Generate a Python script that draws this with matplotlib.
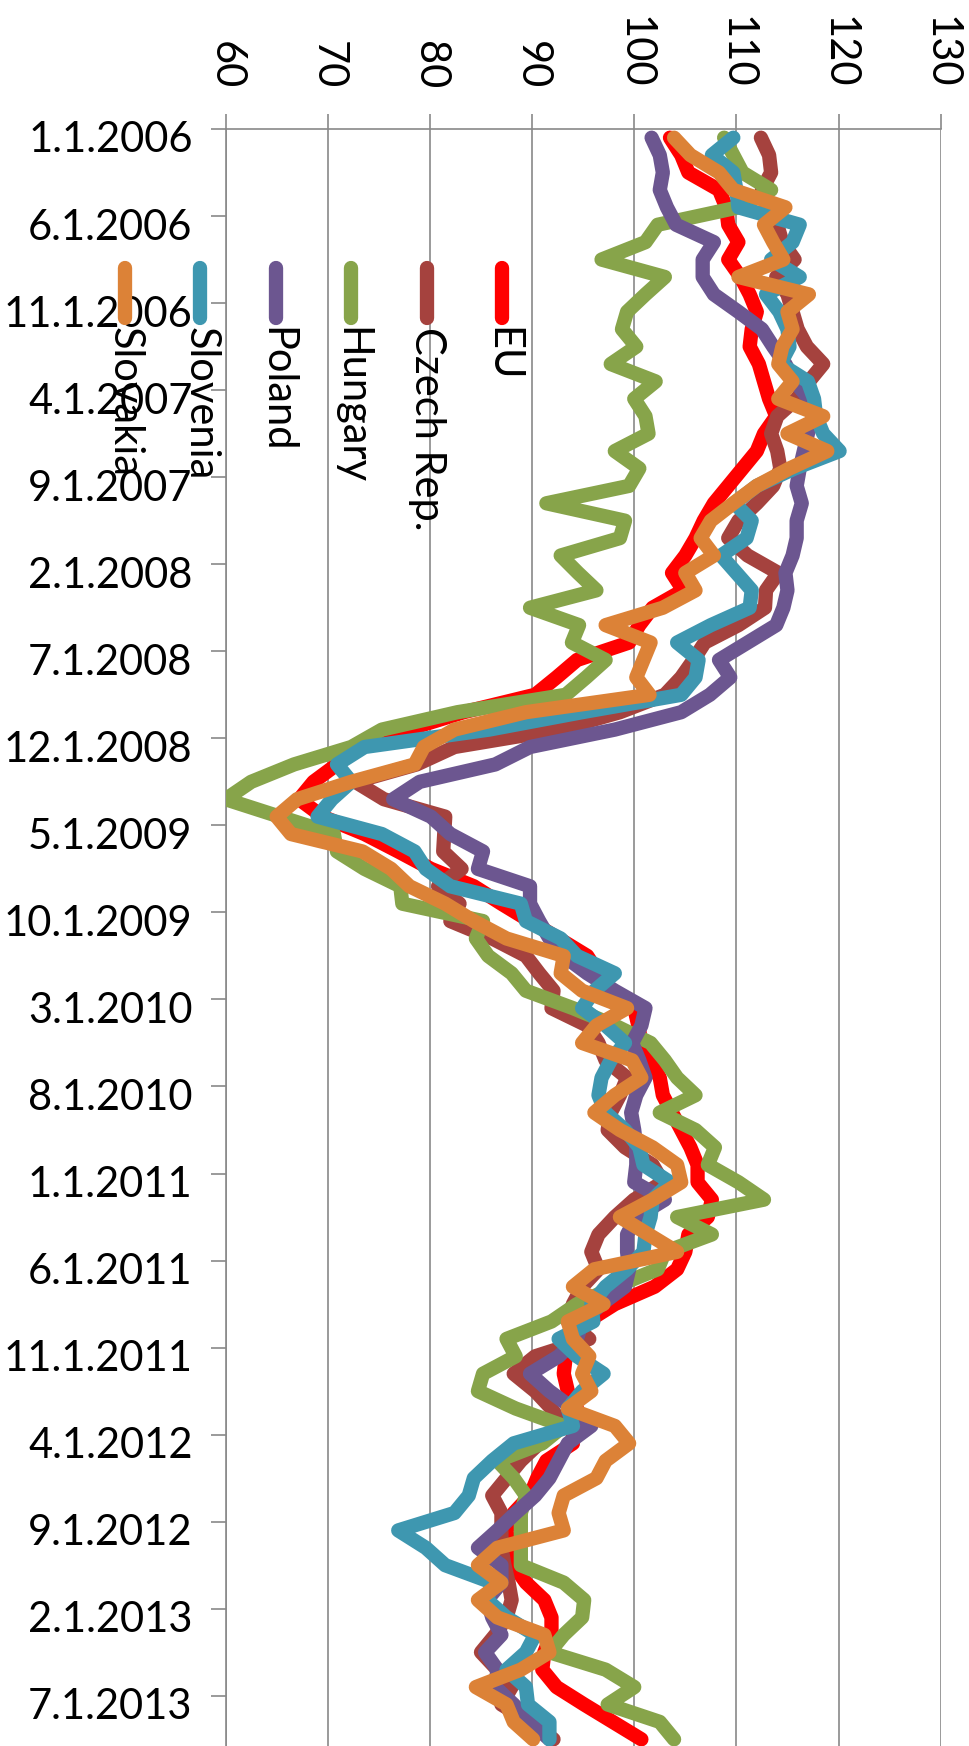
import numpy as np
import pandas as pd
import matplotlib
matplotlib.use('Agg')
import matplotlib.pyplot as plt
from matplotlib.lines import Line2D
from matplotlib.transforms import ScaledTranslation

plt.rcParams['font.family'] = ['Lato', 'DejaVu Sans']

# monthly index values, Jan 2006 - Sep 2013
months = pd.date_range('2006-01-01', periods=93, freq='MS')

eu = [103.5, 104.6, 105.3, 108.3, 109.0, 109.2, 110.2, 109.2, 110.4, 111.3,
      112.0, 111.5, 111.3, 112.2, 112.7, 113.2, 113.9, 112.7, 112.0, 110.6,
      109.2, 107.8, 106.8, 106.0, 105.0, 103.7, 104.8, 101.8, 100.5, 99.5,
      94.4, 92.4, 90.3, 83.3, 77.8, 72.7, 70.9, 68.6, 67.2, 69.5,
      73.6, 76.9, 80.1, 84.3, 87.0, 89.8, 92.6, 95.4, 96.5, 97.7,
      100.0, 100.4, 100.7, 101.6, 102.5, 102.8, 103.7, 104.6, 105.5, 106.2,
      106.2, 107.6, 107.2, 105.3, 105.0, 104.2, 102.0, 98.1, 95.4, 94.0,
      93.3, 93.1, 93.5, 94.4, 94.0, 94.0, 91.4, 90.5, 89.8, 88.2,
      87.5, 87.7, 88.2, 89.4, 91.2, 91.9, 91.9, 91.2, 91.0, 92.4,
      95.1, 97.9, 100.7]

czech = [112.4, 113.2, 113.4, 112.5, 113.0, 114.0, 114.5, 115.7, 113.9, 115.0,
         115.5, 116.0, 116.9, 118.5, 117.1, 115.9, 114.0, 113.4, 114.0, 114.3,
         113.6, 112.0, 110.2, 109.2, 111.1, 114.1, 112.9, 112.8, 110.2, 106.9,
         105.8, 104.6, 103.0, 98.6, 92.6, 82.4, 78.7, 72.7, 75.5, 81.5,
         81.4, 81.3, 83.1, 80.8, 82.9, 82.0, 86.1, 89.4, 90.7, 92.1,
         91.9, 95.4, 96.5, 97.2, 99.3, 98.6, 97.7, 97.4, 99.1, 101.8,
         102.8, 100.0, 98.1, 96.5, 95.8, 96.5, 94.9, 94.0, 93.5, 95.6,
         90.3, 88.2, 90.3, 91.9, 93.1, 90.7, 88.9, 87.5, 86.1, 87.0,
         87.0, 87.0, 87.3, 87.7, 88.0, 87.5, 86.4, 85.0, 86.6, 88.0,
         87.0, 89.8, 92.1]

hungary = [108.8, 109.7, 110.6, 113.4, 110.2, 102.3, 101.1, 96.8, 103.0, 101.1,
           99.3, 98.8, 100.2, 97.7, 102.1, 100.0, 101.1, 101.4, 98.1, 100.5,
           99.5, 91.4, 99.1, 98.6, 92.8, 94.5, 96.3, 89.8, 94.6, 93.9,
           97.2, 95.3, 93.3, 82.7, 75.3, 72.3, 66.7, 62.5, 60.0, 65.3,
           70.6, 70.9, 73.6, 77.1, 77.3, 85.2, 84.5, 85.7, 88.0, 89.4,
           94.0, 98.1, 101.6, 103.0, 104.2, 106.0, 102.5, 106.0, 107.9, 107.2,
           110.2, 112.7, 104.2, 107.6, 103.0, 102.3, 98.1, 94.4, 91.9, 87.5,
           88.4, 85.2, 84.7, 88.4, 93.1, 91.0, 86.6, 88.2, 89.4, 88.9,
           88.9, 88.9, 88.9, 93.1, 95.1, 94.9, 93.1, 91.7, 97.2, 100.0,
           97.4, 102.5, 103.9]

poland = [101.7, 102.5, 102.8, 102.5, 103.2, 104.1, 107.8, 106.7, 106.7, 107.8,
          110.2, 112.5, 113.6, 114.8, 115.7, 117.1, 117.5, 117.0, 116.6, 116.2,
          115.9, 116.4, 115.9, 115.9, 115.5, 114.8, 115.0, 114.6, 113.9, 111.1,
          108.3, 109.4, 107.4, 104.6, 98.1, 89.8, 86.4, 79.0, 76.4, 80.1,
          82.0, 85.2, 84.7, 89.8, 89.8, 90.7, 91.7, 93.1, 95.4, 98.1,
          101.1, 100.7, 99.8, 100.5, 101.1, 100.2, 99.7, 100.0, 100.2, 100.2,
          100.0, 103.0, 100.2, 99.3, 99.3, 99.5, 99.1, 96.8, 94.9, 94.4,
          92.6, 89.8, 91.7, 94.0, 95.8, 93.5, 92.6, 91.7, 90.3, 88.4,
          86.6, 84.7, 87.0, 87.0, 85.6, 86.1, 87.0, 85.4, 86.6, 86.4,
          88.2, 89.8, 91.7]

slovenia = [109.7, 107.6, 109.7, 110.0, 110.2, 116.2, 115.5, 113.4, 116.2, 112.9,
            114.2, 115.0, 115.2, 114.3, 117.0, 117.6, 117.8, 118.5, 120.1, 115.7,
            112.0, 109.8, 111.5, 111.0, 108.5, 110.0, 111.5, 111.3, 107.5, 104.2,
            106.3, 106.0, 104.6, 94.9, 85.8, 73.6, 70.9, 72.3, 70.4, 69.0,
            75.3, 78.5, 79.6, 82.0, 88.9, 89.4, 92.8, 94.4, 98.1, 96.1,
            94.9, 97.2, 99.1, 97.7, 96.8, 96.5, 97.2, 99.1, 100.5, 100.9,
            103.5, 101.8, 101.6, 101.1, 100.9, 99.3, 97.2, 95.8, 96.0, 92.6,
            94.4, 97.0, 94.9, 93.5, 94.0, 88.2, 86.1, 84.3, 83.8, 82.4,
            76.9, 79.6, 81.5, 86.1, 85.6, 87.5, 90.3, 89.4, 87.5, 89.4,
            89.6, 91.7, 91.7]

slovakia = [103.9, 105.5, 108.3, 109.7, 114.8, 112.7, 113.6, 114.6, 110.2, 117.1,
            115.0, 115.5, 114.5, 114.1, 115.5, 114.1, 118.5, 115.0, 118.9, 115.2,
            112.0, 109.7, 107.5, 106.5, 107.8, 105.0, 106.0, 102.8, 97.2, 101.6,
            100.9, 100.2, 101.5, 89.4, 82.4, 79.4, 78.5, 72.3, 67.0, 65.0,
            66.4, 73.4, 76.2, 78.0, 81.5, 84.3, 87.5, 93.1, 92.8, 94.9,
            99.3, 96.3, 94.9, 99.8, 100.7, 98.1, 96.1, 98.6, 101.8, 104.2,
            104.6, 101.8, 98.6, 101.4, 104.2, 96.1, 94.0, 97.0, 93.5, 94.0,
            95.6, 94.9, 95.8, 93.5, 98.1, 99.5, 97.2, 96.3, 93.1, 92.6,
            93.1, 86.6, 84.7, 87.0, 84.7, 86.6, 91.2, 91.7, 88.9, 84.5,
            87.5, 88.2, 90.1]

names = ['EU', 'Czech Rep.', 'Hungary', 'Poland', 'Slovenia', 'Slovakia']
series = [eu, czech, hungary, poland, slovenia, slovakia]
colors = ['#FF0000', '#A5423E', '#87A44A', '#6C5690', '#3E97B0', '#DC8237']

value_ticks = [60, 70, 80, 90, 100, 110, 120, 130]
date_labels = [f'{d.month}.{d.day}.{d.year}' for d in months[::5]]

W, H = 969, 1746
fig = plt.figure(figsize=(W / 100, H / 100), dpi=100)

# plot area in pixels: 60 at x=226, 130 at x=941, top axis at y=129
left, right, top = 225.6, 940.7, 129.0
ax = fig.add_axes([left / W, -0.00115, (right - left) / W, (1 - top / H) + 0.00115])

grid_c = '#898989'
y = np.arange(len(months)) + 0.5
for vals, c in zip(series, colors):
    ax.plot(vals, y, color=c, lw=10.3, solid_capstyle='round',
            solid_joinstyle='round', zorder=3)

ax.set_xlim(60, 130)
ax.set_ylim(len(months), 0)
ax.set_xticks(value_ticks)
ax.set_yticks(np.arange(0, len(months), 5))
ax.set_yticklabels(date_labels)

ax.xaxis.tick_top()
ax.grid(axis='x', color=grid_c, lw=1.2, zorder=1)
for s in ['bottom', 'right']:
    ax.spines[s].set_visible(False)
for s in ['top', 'left']:
    ax.spines[s].set_color(grid_c)
    ax.spines[s].set_linewidth(1.2)

ax.tick_params(axis='x', direction='out', length=10.8, width=1.2, color=grid_c,
               labelrotation=-90, labelsize=30, pad=18)
ax.tick_params(axis='y', direction='out', length=10.8, width=1.2, color=grid_c,
               labelsize=30, pad=13)

# date labels sit a little below their tick marks
shift = ScaledTranslation(0, -8 / 100, fig.dpi_scale_trans)
for lab in ax.get_yticklabels():
    lab.set_transform(lab.get_transform() + shift)

# legend: short vertical swatches with rotated names underneath
for k, (name, c) in enumerate(zip(names, colors)):
    xp = (502 - 75.4 * k) / W
    fig.add_artist(Line2D([xp, xp], [1 - 268 / H, 1 - 318 / H], color=c, lw=10.3,
                          solid_capstyle='round', transform=fig.transFigure))
    fig.text(xp, 1 - 327 / H, name, rotation=-90, ha='center', va='top',
             fontsize=30)

fig.savefig('out.png', dpi=100)
